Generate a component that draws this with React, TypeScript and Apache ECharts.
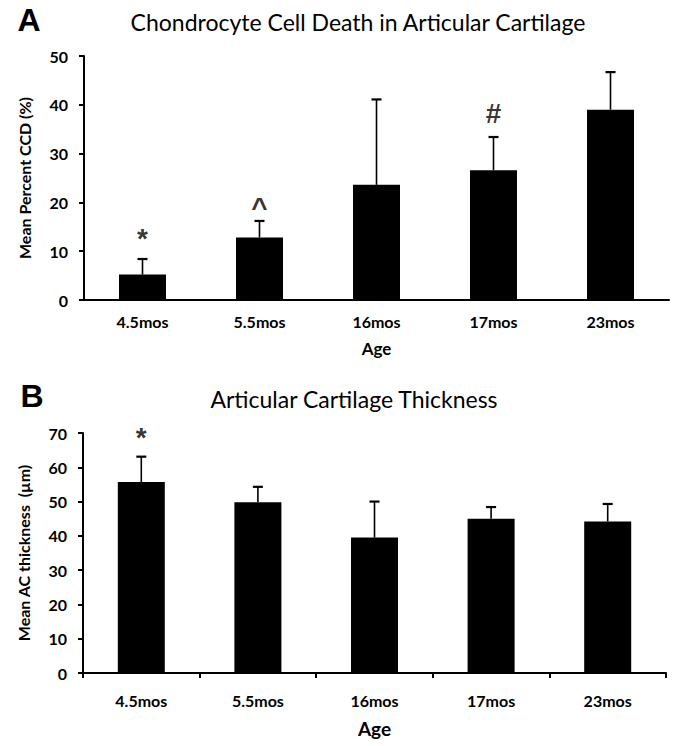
import React, { useEffect, useRef } from "react";
import * as echarts from "echarts";

const categories = ["4.5mos", "5.5mos", "16mos", "17mos", "23mos"];

// Panel A: chondrocyte cell death (%)
const ccdMean = [5.2, 12.8, 23.6, 26.6, 39.0];
const ccdErr = [3.2, 3.4, 17.5, 6.8, 7.7];
const ccdMarks = ["*", "^", "", "#", ""];
const ccdMarkY = [12.6, 19.0, null, 38.3, null];
const ccdMax = 50;
const ccdInterval = 10;

// Panel B: articular cartilage thickness (µm)
const acMean = [55.7, 49.8, 39.5, 45.0, 44.2];
const acErr = [7.4, 4.5, 10.5, 3.4, 5.1];
const acMarks = ["*", "", "", "", ""];
const acMarkY = [68.8, null, null, null, null];
const acMax = 70;
const acInterval = 10;

const FONT = "Lato";

function errorSeries(mean: number[], err: number[], idx: number) {
  return {
    type: "custom",
    xAxisIndex: idx,
    yAxisIndex: idx,
    z: 5,
    data: mean.map((m, i) => [i, m, m + err[i]]),
    renderItem: (params: any, api: any) => {
      const lo = api.coord([api.value(0), api.value(1)]);
      const hi = api.coord([api.value(0), api.value(2)]);
      const hw = 5;
      const style = { stroke: "#000", lineWidth: 1.6 };
      return {
        type: "group",
        children: [
          { type: "line", shape: { x1: lo[0], y1: lo[1], x2: hi[0], y2: hi[1] }, style },
          { type: "line", shape: { x1: hi[0] - hw, y1: hi[1], x2: hi[0] + hw, y2: hi[1] }, style: { stroke: "#000", lineWidth: 2.2 } },
        ],
      };
    },
  };
}

function markSeries(marks: string[], ys: (number | null)[], idx: number) {
  return {
    type: "scatter",
    xAxisIndex: idx,
    yAxisIndex: idx,
    symbolSize: 1,
    itemStyle: { color: "rgba(0,0,0,0)" },
    z: 6,
    data: marks
      .map((t, i) => (t && ys[i] != null ? { value: [i, ys[i]], name: t } : null))
      .filter((d) => d !== null),
    label: {
      show: true,
      position: "inside",
      formatter: (p: any) => p.name,
      fontFamily: "Liberation Sans",
      fontSize: 28,
      fontWeight: "bold",
      color: "#000",
    },
  };
}

function yAxisCfg(idx: number, max: number, interval: number, name: string) {
  return {
    type: "value",
    gridIndex: idx,
    min: 0,
    max,
    interval,
    name,
    nameLocation: "middle",
    nameGap: 52,
    nameTextStyle: { fontFamily: FONT, fontSize: 16, fontWeight: "bold", color: "#000" },
    axisLine: { show: true, lineStyle: { color: "#000", width: 2 } },
    axisTick: { show: true, length: 5, lineStyle: { color: "#000", width: 2 } },
    axisLabel: { fontFamily: FONT, fontSize: 16, fontWeight: "bold", color: "#000", margin: 16 },
    splitLine: { show: false },
  };
}

function xAxisCfg(idx: number, ticks: boolean, nameSize: number, labelMargin: number, nameGap: number) {
  return {
    type: "category",
    gridIndex: idx,
    data: categories,
    name: "Age",
    nameLocation: "middle",
    nameGap,
    nameTextStyle: { fontFamily: FONT, fontSize: nameSize, fontWeight: "bold", color: "#000" },
    axisLine: { show: true, lineStyle: { color: "#000", width: 2 } },
    axisTick: { show: ticks, length: 5, lineStyle: { color: "#000", width: 2 } },
    axisLabel: { fontFamily: FONT, fontSize: 16, fontWeight: "bold", color: "#000", margin: labelMargin },
  };
}

export default function App() {
  const ref = useRef<HTMLDivElement>(null);
  useEffect(() => {
    document.body.style.margin = "0";
    const chart = echarts.init(ref.current!, null, { renderer: "svg" });
    chart.setOption({
      animation: false,
      backgroundColor: "#fff",
      grid: [
        { left: 84, top: 56, width: 585, height: 244 },
        { left: 83, top: 433, width: 583, height: 240 },
      ],
      xAxis: [xAxisCfg(0, false, 17, 13, 40), xAxisCfg(1, true, 19, 19, 46)],
      yAxis: [
        yAxisCfg(0, ccdMax, ccdInterval, "Mean Percent CCD (%)"),
        yAxisCfg(1, acMax, acInterval, "Mean AC thickness  (µm)"),
      ],
      graphic: [
        { type: "text", style: { text: "A", x: 29, y: 20, align: "center", verticalAlign: "middle", fontFamily: "Liberation Sans", fontWeight: "bold", fontSize: 32, fill: "#000" } },
        { type: "text", style: { text: "Chondrocyte Cell Death in Articular Cartilage", x: 358, y: 22, align: "center", verticalAlign: "middle", fontFamily: FONT, fontSize: 23, fill: "#000" } },
        { type: "text", style: { text: "B", x: 32, y: 396, align: "center", verticalAlign: "middle", fontFamily: "Liberation Sans", fontWeight: "bold", fontSize: 32, fill: "#000" } },
        { type: "text", style: { text: "Articular Cartilage Thickness", x: 354, y: 399, align: "center", verticalAlign: "middle", fontFamily: FONT, fontSize: 23, fill: "#000" } },
      ],
      series: [
        { type: "bar", xAxisIndex: 0, yAxisIndex: 0, data: ccdMean, barWidth: 47, itemStyle: { color: "#000" } },
        errorSeries(ccdMean, ccdErr, 0),
        markSeries(ccdMarks, ccdMarkY, 0),
        { type: "bar", xAxisIndex: 1, yAxisIndex: 1, data: acMean, barWidth: 47, itemStyle: { color: "#000" } },
        errorSeries(acMean, acErr, 1),
        markSeries(acMarks, acMarkY, 1),
      ],
    });
    return () => chart.dispose();
  }, []);
  return <div ref={ref} style={{ width: 677, height: 746 }} />;
}
